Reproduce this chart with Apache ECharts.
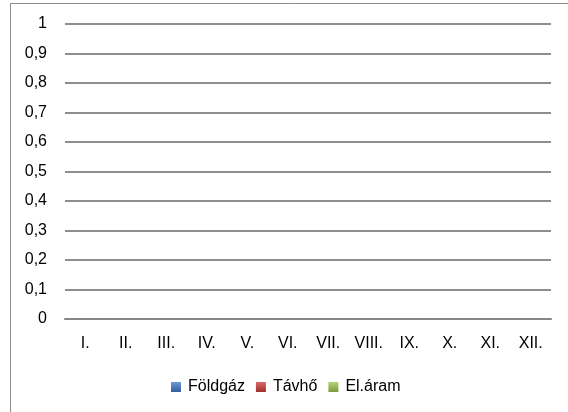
<!DOCTYPE html>
<html>
<head>
<meta charset="utf-8">
<script src="https://cdn.jsdelivr.net/npm/echarts@6/dist/echarts.min.js"></script>
<style>
  html, body { margin: 0; padding: 0; background: #fff; }
  #chart { width: 568px; height: 412px; }
</style>
</head>
<body>
<div id="chart"></div>
<script>
// honapok
var months = ['I.', 'II.', 'III.', 'IV.', 'V.', 'VI.', 'VII.', 'VIII.', 'IX.', 'X.', 'XI.', 'XII.']
var seriesNames = ['Földgáz', 'Távhő', 'El.áram']
// minden ertek ures (0)
var foldgaz = [0, 0, 0, 0, 0, 0, 0, 0, 0, 0, 0, 0]
var tavho = [0, 0, 0, 0, 0, 0, 0, 0, 0, 0, 0, 0]
var elaram = [0, 0, 0, 0, 0, 0, 0, 0, 0, 0, 0, 0]
var yMin = 0
var yMax = 1
var yStep = 0.1

var font = 'Liberation Sans'
var chart = echarts.init(document.getElementById('chart'))

function grad(top, bottom) {
  return new echarts.graphic.LinearGradient(0, 0, 0, 1, [
    { offset: 0, color: top },
    { offset: 1, color: bottom }
  ])
}

var option = {
  animation: false,
  textStyle: { fontFamily: font },
  graphic: [
    {
      type: 'rect',
      shape: { x: 10.5, y: 3.5, width: 700, height: 600 },
      style: { fill: 'none', stroke: '#8c8c8c', lineWidth: 1 },
      silent: true
    }
  ],
  grid: { left: 65, right: 17, top: 24, bottom: 93 },
  legend: {
    data: seriesNames,
    left: 166,
    top: 374,
    icon: 'rect',
    itemWidth: 10,
    itemHeight: 10,
    itemGap: 11,
    textStyle: { fontFamily: font, fontSize: 16, color: '#000', padding: [0, 0, 0, 2] }
  },
  xAxis: {
    type: 'category',
    data: months,
    axisTick: { show: false },
    axisLine: { lineStyle: { color: '#868686', width: 2 } },
    axisLabel: { color: '#000', fontSize: 16, margin: 17, fontFamily: font }
  },
  yAxis: {
    type: 'value',
    min: yMin,
    max: yMax,
    interval: yStep,
    axisLine: { show: false },
    axisTick: { show: false },
    splitLine: { lineStyle: { color: '#8e8e8e', width: 2 } },
    axisLabel: {
      color: '#000',
      fontSize: 16,
      margin: 18,
      fontFamily: font,
      formatter: function (v) { return String(Math.round(v * 10) / 10).replace('.', ',') }
    }
  },
  series: [
    { name: seriesNames[0], type: 'bar', data: foldgaz, itemStyle: { color: grad('#6f9ad6', '#335f9c') } },
    { name: seriesNames[1], type: 'bar', data: tavho, itemStyle: { color: grad('#dc6a66', '#9e302d') } },
    { name: seriesNames[2], type: 'bar', data: elaram, itemStyle: { color: grad('#b5d477', '#7a9a3c') } }
  ]
}
chart.setOption(option)
</script>
</body>
</html>
